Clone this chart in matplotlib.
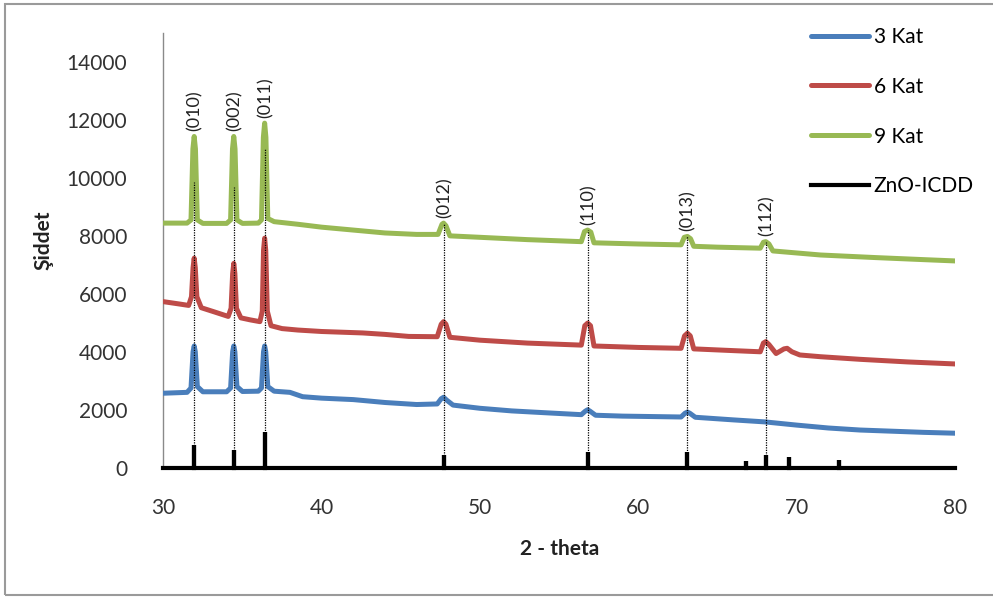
import matplotlib
matplotlib.use("Agg")
import matplotlib.pyplot as plt
from matplotlib.patches import Rectangle

plt.rcParams['font.family'] = ['Lato', 'DejaVu Sans']

# ---- 3 Kat ----
kat3_x = [30.0, 31.5, 31.75, 31.88, 31.95, 32.02, 32.15, 32.5, 34.0, 34.25, 34.38, 34.45, 34.52,
          34.65, 35.0, 36.0, 36.2, 36.33, 36.4, 36.47, 36.6, 37.0, 38.0, 38.8, 40.0, 42.0, 44.0,
          46.0, 47.3, 47.55, 47.7, 47.9, 48.3, 50.0, 52.0, 54.0, 56.4, 56.65, 56.8, 56.95, 57.3,
          59.0, 62.7, 62.95, 63.1, 63.25, 63.6, 66.0, 68.0, 70.0, 72.0, 74.0, 76.0, 78.0, 80.0]
kat3_y = [2570, 2600, 2750, 4000, 4200, 4000, 2800, 2620, 2620, 2750, 4000, 4200, 4000,
          2800, 2630, 2640, 2750, 4000, 4200, 4000, 2800, 2640, 2600, 2450, 2400, 2350, 2250,
          2180, 2200, 2380, 2430, 2330, 2160, 2050, 1960, 1900, 1830, 1950, 2000, 1950, 1810,
          1780, 1750, 1880, 1920, 1880, 1740, 1650, 1580, 1470, 1370, 1300, 1260, 1220, 1190]

# ---- 6 Kat ----
kat6_x = [30.0, 31.0, 31.6, 31.78, 31.88, 31.95, 32.02, 32.12, 32.4, 33.2, 34.1, 34.28, 34.38,
          34.45, 34.52, 34.62, 34.9, 35.5, 36.1, 36.25, 36.33, 36.4, 36.47, 36.57, 36.8, 37.5,
          38.5, 40.0, 42.6, 44.0, 45.5, 47.3, 47.55, 47.7, 47.85, 48.1, 50.0, 53.0, 56.4, 56.62,
          56.8, 56.98, 57.2, 60.0, 62.7, 62.92, 63.1, 63.28, 63.5, 66.0, 67.7, 67.9, 68.05, 68.25,
          68.7, 69.2, 69.4, 69.7, 70.2, 71.5, 74.0, 77.0, 80.0]
kat6_y = [5730, 5650, 5600, 5900, 6900, 7230, 6900, 5900, 5520, 5380, 5220, 5500, 6700,
          7050, 6700, 5500, 5170, 5100, 5040, 5400, 7500, 7920, 7500, 5400, 4900, 4800,
          4750, 4700, 4650, 4600, 4530, 4520, 4950, 5040, 4950, 4500, 4400, 4300, 4230, 4900,
          4990, 4900, 4200, 4150, 4120, 4550, 4640, 4550, 4100, 4040, 4000, 4300, 4350, 4250,
          3940, 4100, 4120, 4000, 3890, 3830, 3740, 3650, 3580]

# ---- 9 Kat ----
kat9_x = [30.0, 31.5, 31.75, 31.87, 31.95, 32.03, 32.15, 32.5, 34.0, 34.25, 34.37, 34.45, 34.53,
          34.65, 35.0, 36.0, 36.2, 36.32, 36.4, 36.48, 36.6, 37.0, 38.5, 40.0, 42.0, 44.0, 46.0,
          47.35, 47.6, 47.7, 47.85, 48.1, 50.0, 53.0, 56.4, 56.6, 56.8, 57.0, 57.2, 60.0, 62.7,
          62.9, 63.1, 63.3, 63.5, 65.0, 67.7, 67.9, 68.05, 68.25, 68.5, 71.5, 75.0, 78.0, 80.0]
kat9_y = [8440, 8440, 8550, 11000, 11430, 11000, 8550, 8430, 8430, 8550, 11000, 11430, 11000,
          8550, 8430, 8440, 8550, 11400, 11890, 11400, 8600, 8490, 8400, 8300, 8200, 8100, 8050,
          8050, 8400, 8440, 8350, 8000, 7950, 7870, 7800, 8150, 8200, 8130, 7760, 7720, 7690,
          7950, 7980, 7900, 7640, 7610, 7575, 7780, 7800, 7720, 7480, 7340, 7250, 7180, 7135]

# ---- ZnO-ICDD reference sticks ----
icdd_pos = [31.95, 34.45, 36.4, 47.7, 56.8, 63.1, 66.8, 68.05, 69.5, 72.7]
icdd_int = [780, 610, 1240, 430, 540, 540, 230, 430, 360, 250]

# ---- reflection markers ----
hkl_labels = ["(010)", "(002)", "(011)", "(012)", "(110)", "(013)", "(112)"]
hkl_pos = [31.95, 34.45, 36.4, 47.7, 56.8, 63.1, 68.05]
hkl_peak = [11430, 11430, 11890, 8440, 8200, 7980, 7800]
guide_top = [9860, 9690, 11030, 8440, 8200, 7980, 7800]

x_ticks = [30, 40, 50, 60, 70, 80]
y_ticks = [0, 2000, 4000, 6000, 8000, 10000, 12000, 14000]

col3 = "#4a7ebb"
col6 = "#be4b48"
col9 = "#98b954"

W, H = 993, 599
fig = plt.figure(figsize=(W / 100, H / 100), dpi=100)
fig.patch.set_facecolor("white")

# chart-area border
fig.add_artist(Rectangle((5 / W, 4 / H), 1.2, 591 / H, transform=fig.transFigure,
                         fill=False, edgecolor="#9a9a9a", linewidth=1.5))

ax = fig.add_axes([163.3 / W, (H - 467.7) / H, (955 - 163.3) / W, (467.7 - 33) / H])
ax.set_xlim(30, 80)
ax.set_ylim(0, 15000)

lw = 3.6
l3, = ax.plot(kat3_x, kat3_y, color=col3, lw=lw, solid_joinstyle="round",
              solid_capstyle="round", label="3 Kat", zorder=3)
l6, = ax.plot(kat6_x, kat6_y, color=col6, lw=lw, solid_joinstyle="round",
              solid_capstyle="round", label="6 Kat", zorder=3)
l9, = ax.plot(kat9_x, kat9_y, color=col9, lw=lw, solid_joinstyle="round",
              solid_capstyle="round", label="9 Kat", zorder=3)

# reference pattern as a single polyline along the baseline
sx, sy = [30.0], [0]
for p, h in zip(icdd_pos, icdd_int):
    sx += [p, p, p]
    sy += [0, h, 0]
sx.append(80.0)
sy.append(0)
lz, = ax.plot(sx, sy, color="black", lw=3.0, solid_joinstyle="miter",
              label="ZnO-ICDD", zorder=4, clip_on=False)

# dotted guide lines and Miller indices
for p, top in zip(hkl_pos, guide_top):
    ax.plot([p, p], [0, top], color="black", lw=0.9, ls=(0, (1, 1)), zorder=5)
for lab, p, pk in zip(hkl_labels, hkl_pos, hkl_peak):
    ax.annotate(lab, xy=(p, pk), xytext=(0.5, 4), textcoords="offset points",
                rotation=90, ha="center", va="bottom", fontsize=13, color="#222222")

ax.set_xticks(x_ticks)
ax.set_yticks(y_ticks)
ax.tick_params(axis="both", length=0, labelsize=15, colors="#333333")
ax.tick_params(axis="y", pad=26)
ax.tick_params(axis="x", pad=22)

for s in ["top", "right"]:
    ax.spines[s].set_visible(False)
ax.spines["left"].set_color("#8a8a8a")
ax.spines["left"].set_linewidth(1.0)
ax.spines["bottom"].set_visible(False)

ax.set_ylabel("Şiddet", fontsize=15, fontweight="bold", color="#222222")
ax.yaxis.set_label_coords((53 - 163.3) / (955 - 163.3), (467.7 - 240) / (467.7 - 33))
ax.set_xlabel("2 - theta", fontsize=15, fontweight="bold", color="#222222")
ax.xaxis.set_label_coords(0.5, (467.7 - 539) / (467.7 - 33))

fig.legend(handles=[l3, l6, l9, lz], loc="upper left",
           bbox_to_anchor=(811 / W, 1 - 27 / H), bbox_transform=fig.transFigure,
           frameon=False, fontsize=15, handlelength=2.8, handletextpad=0.2,
           labelspacing=1.43, borderpad=0, borderaxespad=0)

fig.savefig("out.png", dpi=100, facecolor="white")
